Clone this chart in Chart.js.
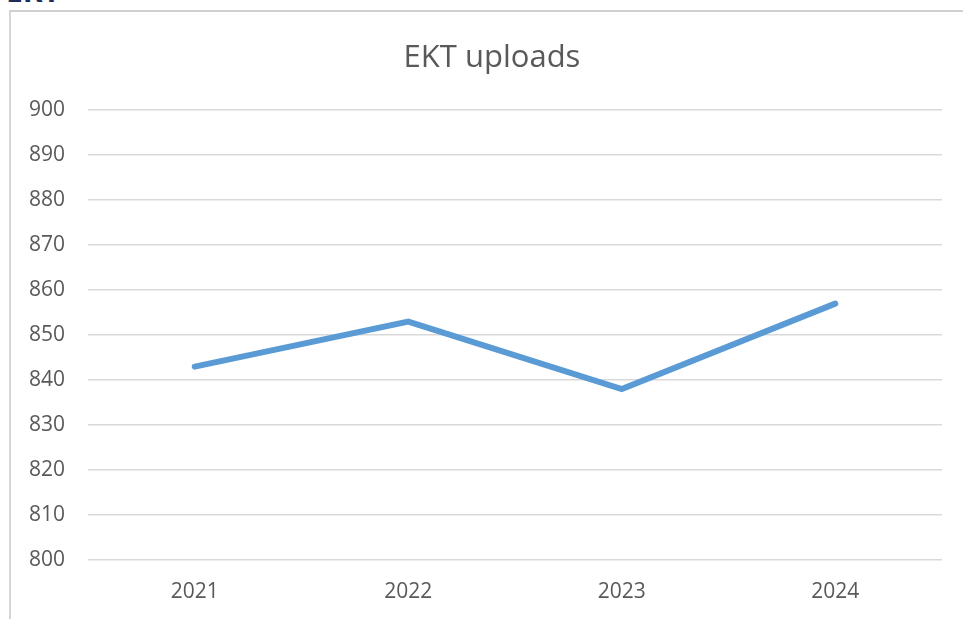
<!DOCTYPE html>
<html>
<head>
<meta charset="utf-8">
<script src="https://cdn.jsdelivr.net/npm/chart.js@4"></script>
<style>
    body { margin: 0; background: #fff; overflow: hidden; }
    #wrap { position: relative; width: 963px; height: 619px; }
    #heading { position: absolute; left: 6px; top: -30px; font: bold 30px "Open Sans", sans-serif; color: #1f2d5a; }
    #frame { position: absolute; left: 9px; top: 10px; right: 0; bottom: 0; border-left: 2px solid #d6d6d6; border-top: 2px solid #d0d0d0; }
    #chart { position: absolute; left: 0; top: 0; }
</style>
</head>
<body>
<div id="wrap">
    <div id="heading">EKT</div>
    <div id="frame"></div>
    <canvas id="chart" width="963" height="619"></canvas>
</div>
<script>
var years = ["2021", "2022", "2023", "2024"];
var uploads = [843, 853, 838, 857];
var yMin = 800;
var yMax = 900;
var yStep = 10;

var ctx = document.getElementById('chart').getContext('2d');
var chart = new Chart(ctx, {
    type: 'line',
    data: {
        labels: years,
        datasets: [
            {
                label: "EKT uploads",
                data: uploads,
                borderColor: "#5b9bd5",
                backgroundColor: "#5b9bd5",
                borderWidth: 6,
                borderCapStyle: 'round',
                borderJoinStyle: 'miter',
                pointRadius: 0,
                tension: 0,
                fill: false
            }
        ]
    },
    options: {
        responsive: false,
        animation: false,
        layout: {
            padding: { left: 21, right: 0, top: 0, bottom: 0 }
        },
        plugins: {
            legend: { display: false },
            tooltip: { enabled: false },
            title: {
                display: true,
                text: "EKT uploads",
                color: "#595959",
                font: { family: "Open Sans", size: 31, weight: 'normal' },
                padding: { top: 40, bottom: 33 }
            }
        },
        scales: {
            x: {
                offset: true,
                grid: { display: false },
                border: { display: false },
                ticks: {
                    color: "#595959",
                    font: { family: "Open Sans", size: 21 },
                    padding: 11,
                    maxRotation: 0
                },
                afterFit: function(scale) { scale.height = 59; }
            },
            y: {
                min: yMin,
                max: yMax,
                grid: { color: "#d9d9d9", lineWidth: 1.5, drawTicks: false },
                border: { display: false },
                ticks: {
                    stepSize: yStep,
                    color: "#595959",
                    font: { family: "Open Sans", size: 21 },
                    padding: 23
                },
                afterFit: function(scale) { scale.width = 67; }
            },
            // empty right-hand axis, only keeps the plot 21px off the right edge
            yRight: {
                position: 'right',
                min: yMin,
                max: yMax,
                grid: { display: false },
                border: { display: false },
                ticks: { display: false },
                afterFit: function(scale) { scale.width = 21; }
            }
        }
    }
});
</script>
</body>
</html>
